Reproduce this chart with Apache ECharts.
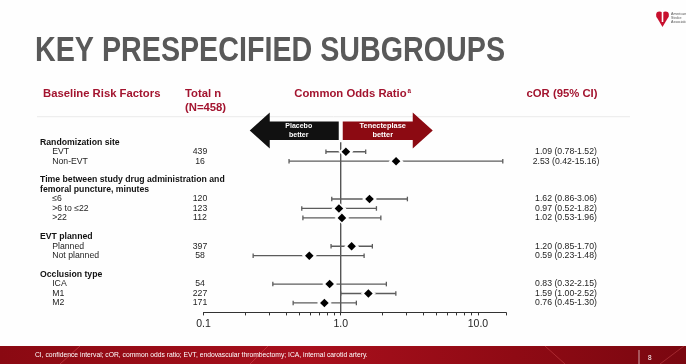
<!DOCTYPE html>
<html><head><meta charset="utf-8">
<script src="https://cdn.jsdelivr.net/npm/echarts@6/dist/echarts.min.js"></script>
<style>html,body{margin:0;padding:0;background:#fefefe}#c{width:686px;height:364px}</style>
</head><body><div id="c"></div>
<script>
// ---------- data ----------
const titleText = 'KEY PRESPECIFIED SUBGROUPS';
const groupHeaders = [
  ['Randomization site'],
  ['Time between study drug administration and', 'femoral puncture, minutes'],
  ['EVT planned'],
  ['Occlusion type']
];
const subgroupLabels = [
  ['EVT', 'Non-EVT'],
  ['≤6', '>6 to ≤22', '>22'],
  ['Planned', 'Not planned'],
  ['ICA', 'M1', 'M2']
];
const totalN   = [439, 16, 120, 123, 112, 397, 58, 54, 227, 171];
const corValues = [1.09, 2.53, 1.62, 0.97, 1.02, 1.20, 0.59, 0.83, 1.59, 0.76];
const ciLower   = [0.78, 0.42, 0.86, 0.52, 0.53, 0.85, 0.23, 0.32, 1.00, 0.45];
const ciUpper   = [1.52, 15.16, 3.06, 1.82, 1.96, 1.70, 1.48, 2.15, 2.52, 1.30];
const nullEffect = 1;
const axisTickValues = [0.1,0.2,0.3,0.4,0.5,0.6,0.7,0.8,0.9,1,2,3,4,5,6,7,8,9,10,16];
const axisLabelValues = [0.1, 1, 10];
const columnHeaders = ['Baseline Risk Factors', 'Total n', '(N=458)', 'Common Odds Ratio', 'a', 'cOR (95% CI)'];
const arrowTexts = ['Placebo\nbetter', 'Tenecteplase\nbetter'];
const footnote = 'CI, confidence interval; cOR, common odds ratio; EVT, endovascular thrombectomy; ICA, internal carotid artery.';
const pageNumber = '8';

// ---------- build rows ----------
const rows = [];
let k = 0;
groupHeaders.forEach((hs, g) => {
  hs.forEach(h => rows.push({kind: 'header', text: h}));
  subgroupLabels[g].forEach(s => { rows.push({kind: 'item', text: s, k: k}); k++; });
  rows.push({kind: 'blank'});
});
const cats = rows.map((r, i) => String(i));
const forestData = [];
rows.forEach((r, i) => {
  if (r.kind === 'item') forestData.push([i, corValues[r.k], ciLower[r.k], ciUpper[r.k]]);
});
const fmt2 = v => v.toFixed(2);

const FONT = '"Liberation Sans", Arial, sans-serif';
const RED = '#a3142f';
const TXT = '#1e1e1e';

const chart = echarts.init(document.getElementById('c'), null, {renderer: 'canvas'});

function renderForest(params, api) {
  const row = api.value(0);
  const c = api.coord([api.value(1), row]);
  const lo = api.coord([api.value(2), row]);
  const hi = api.coord([api.value(3), row]);
  const y = c[1];
  const ls = {stroke: '#5c5c5c', lineWidth: 1.3};
  const cap = 2.3, gw = 7.5, gh = 6, d = 4.3;
  return {type: 'group', children: [
    {type: 'line', shape: {x1: lo[0], y1: y, x2: hi[0], y2: y}, style: ls},
    {type: 'line', shape: {x1: lo[0], y1: y - cap, x2: lo[0], y2: y + cap}, style: ls},
    {type: 'line', shape: {x1: hi[0], y1: y - cap, x2: hi[0], y2: y + cap}, style: ls},
    {type: 'polygon', shape: {points: [[c[0]-gw, y], [c[0], y-gh], [c[0]+gw, y], [c[0], y+gh]]}, style: {fill: '#fefefe'}},
    {type: 'polygon', shape: {points: [[c[0]-d, y], [c[0], y-d], [c[0]+d, y], [c[0], y+d]]}, style: {fill: '#000'}}
  ]};
}

const baseY = {
  type: 'category', data: cats, boundaryGap: false, inverse: true,
  axisLine: {show: false, onZero: false}, axisTick: {show: false}, splitLine: {show: false}
};
const lab = {interval: 0, fontSize: 8.7, color: TXT, fontFamily: FONT};

chart.setOption({
  animation: false,
  backgroundColor: '#fefefe',
  grid: {left: 203.5, right: 180, top: 142.3, bottom: 51.6},
  xAxis: {
    type: 'log', logBase: 10, min: 0.1, max: 16,
    axisLine: {show: true, onZero: false, lineStyle: {color: '#333', width: 1}},
    axisTick: {show: true, customValues: axisTickValues, length: 3, lineStyle: {color: '#333', width: 1}},
    minorTick: {show: false},
    axisLabel: {customValues: axisLabelValues, formatter: v => (+v).toFixed(1), fontSize: 10.5, color: TXT, fontFamily: FONT, margin: 6},
    splitLine: {show: false}
  },
  yAxis: [
    Object.assign({}, baseY, {position: 'left', axisLabel: Object.assign({}, lab, {align: 'left', margin: 163.5, fontWeight: 'bold', color: '#111',
      formatter: (v, i) => rows[i] && rows[i].kind === 'header' ? rows[i].text : ''})}),
    Object.assign({}, baseY, {position: 'left', axisLabel: Object.assign({}, lab, {align: 'left', margin: 151.3,
      formatter: (v, i) => rows[i] && rows[i].kind === 'item' ? rows[i].text : ''})}),
    Object.assign({}, baseY, {position: 'left', axisLabel: Object.assign({}, lab, {align: 'center', margin: 3.5,
      formatter: (v, i) => rows[i] && rows[i].kind === 'item' ? String(totalN[rows[i].k]) : ''})}),
    Object.assign({}, baseY, {position: 'right', axisLabel: Object.assign({}, lab, {align: 'center', margin: 60,
      formatter: (v, i) => {
        const r = rows[i];
        if (!r || r.kind !== 'item') return '';
        return fmt2(corValues[r.k]) + ' (' + fmt2(ciLower[r.k]) + '-' + fmt2(ciUpper[r.k]) + ')';
      }})})
  ],
  series: [
    {type: 'line', xAxisIndex: 0, yAxisIndex: 0, data: [[nullEffect, 0], [nullEffect, cats.length - 1]],
      symbol: 'none', lineStyle: {color: '#3a3a3a', width: 1.2}, z: 1, silent: true},
    {type: 'custom', xAxisIndex: 0, yAxisIndex: 0, data: forestData, renderItem: renderForest,
      encode: {x: [1, 2, 3], y: 0}, z: 3, silent: true}
  ]
});

// ---------- decorations ----------
const x1 = chart.convertToPixel({xAxisIndex: 0}, nullEffect);
const ctx = document.createElement('canvas').getContext('2d');
ctx.font = 'bold 35px "Liberation Sans"';
const titleScale = 470 / ctx.measureText(titleText).width;
ctx.font = '10px "Liberation Sans"';
const footSize = 10 * 333 / ctx.measureText(footnote).width;

const hdr = {fontSize: 11.3, fontWeight: 'bold', fill: RED, fontFamily: FONT, verticalAlign: 'middle'};
const ay = 130.5;
const footGrad = {type: 'linear', x: 0, y: 0, x2: 1, y2: 0, colorStops: [
  {offset: 0, color: '#8a0912'}, {offset: 0.45, color: '#a80f1c'}, {offset: 0.75, color: '#8f0a14'}, {offset: 1, color: '#7a0710'}]};
chart.setOption({
  graphic: [
    {type: 'text', x: 35, y: 51, scaleX: titleScale, style: {text: titleText, fontSize: 35, fontWeight: 'bold', fontFamily: FONT, fill: '#595959', verticalAlign: 'middle'}},
    {type: 'text', x: 43, y: 94.3, style: Object.assign({text: columnHeaders[0]}, hdr)},
    {type: 'text', x: 185, y: 94.3, style: Object.assign({text: columnHeaders[1]}, hdr)},
    {type: 'text', x: 185, y: 108.3, style: Object.assign({text: columnHeaders[2]}, hdr)},
    {type: 'text', x: 294.3, y: 94.3, style: Object.assign({text: columnHeaders[3]}, hdr)},
    {type: 'text', x: 407.5, y: 91, style: {text: columnHeaders[4], fontSize: 6.3, fontWeight: 'bold', fill: RED, fontFamily: FONT, verticalAlign: 'middle'}},
    {type: 'text', x: 562, y: 94.3, style: Object.assign({text: columnHeaders[5], align: 'center'}, hdr)},
    {type: 'line', shape: {x1: 37, y1: 116.7, x2: 630, y2: 116.7}, style: {stroke: '#ebebeb', lineWidth: 1}},
    // arrows
    {type: 'polygon', shape: {points: [[x1-91, ay], [x1-71, ay-18], [x1-71, ay-9], [x1-2, ay-9], [x1-2, ay+9.5], [x1-71, ay+9.5], [x1-71, ay+18]]}, style: {fill: '#111'}},
    {type: 'polygon', shape: {points: [[x1+2, ay-9], [x1+72, ay-9], [x1+72, ay-18], [x1+92, ay], [x1+72, ay+18], [x1+72, ay+9.5], [x1+2, ay+9.5]]}, style: {fill: '#8c0a12'}},
    {type: 'text', x: x1-42, y: ay, style: {text: arrowTexts[0], align: 'center', verticalAlign: 'middle', fontSize: 7, lineHeight: 8.6, fontWeight: 'bold', fill: '#fff', fontFamily: FONT}},
    {type: 'text', x: x1+42, y: ay, style: {text: arrowTexts[1], align: 'center', verticalAlign: 'middle', fontSize: 7.4, lineHeight: 8.6, fontWeight: 'bold', fill: '#fff', fontFamily: FONT}},
    // footer band
    {type: 'rect', shape: {x: 0, y: 346, width: 686, height: 18}, style: {fill: footGrad}},
    {type: 'line', shape: {x1: 60, y1: 364, x2: 80, y2: 346}, style: {stroke: 'rgba(255,120,120,0.35)', lineWidth: 1}},
    {type: 'line', shape: {x1: 250, y1: 364, x2: 268, y2: 346}, style: {stroke: 'rgba(255,120,120,0.3)', lineWidth: 1}},
    {type: 'line', shape: {x1: 565, y1: 364, x2: 545, y2: 346}, style: {stroke: 'rgba(255,120,120,0.3)', lineWidth: 1}},
    {type: 'line', shape: {x1: 660, y1: 364, x2: 684, y2: 346}, style: {stroke: 'rgba(255,120,120,0.3)', lineWidth: 1}},
    {type: 'text', x: 35, y: 355.5, style: {text: footnote, fontSize: footSize, fill: '#fff', fontFamily: FONT, verticalAlign: 'middle'}},
    {type: 'line', shape: {x1: 639, y1: 350, x2: 639, y2: 364}, style: {stroke: 'rgba(255,255,255,0.8)', lineWidth: 0.8}},
    {type: 'text', x: 648, y: 358, style: {text: pageNumber, fontSize: 6.5, fill: '#fff', fontFamily: FONT, verticalAlign: 'middle'}},
    // logo
    {type: 'circle', shape: {cx: 659.5, cy: 15, r: 3.4}, style: {fill: '#c8102e'}},
    {type: 'circle', shape: {cx: 665.5, cy: 15, r: 3.4}, style: {fill: '#c8102e'}},
    {type: 'polygon', shape: {points: [[656.3, 16.5], [668.7, 16.5], [662.5, 27]]}, style: {fill: '#c8102e'}},
    {type: 'rect', shape: {x: 661.7, y: 8, width: 1.6, height: 14}, style: {fill: '#fff'}},
    {type: 'text', x: 671, y: 18, style: {text: 'American\nStroke\nAssociation', fontSize: 3.6, lineHeight: 4, fill: '#555', fontFamily: FONT, verticalAlign: 'middle'}}
  ]
});
</script>
</body></html>
